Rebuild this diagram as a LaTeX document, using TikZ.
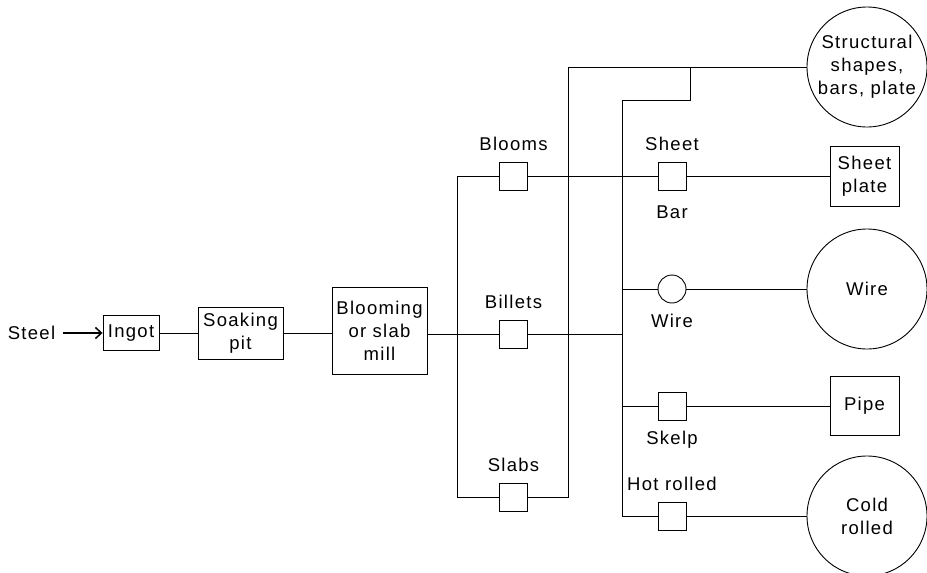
\documentclass[tikz,border=0pt]{standalone}
\usepackage{fontspec}
\setmainfont[LetterSpace=7]{Liberation Sans}
\usetikzlibrary{arrows.meta}
\pgfdeclarelayer{bg}
\pgfsetlayers{bg,main}
\tikzset{
    every node/.style={inner sep=0mm, align=center, font=\fontsize{18.5}{23}\selectfont}
}
\tikzset{
    blk/.style={draw, rectangle, fill=white},
    sq/.style={blk, minimum size=28pt},
    rnd/.style={draw, circle, fill=white, minimum size=120pt},
    sm/.style={draw, circle, fill=white, minimum size=28pt}
}
\tikzset{every label/.style={shape=rectangle, draw=none, fill=none, inner sep=0mm, label distance=10pt}}

\begin{document}
\begin{tikzpicture}[x=1pt, y=-1pt, line width=.9pt]
  \useasboundingbox (0,0) rectangle (927,573);

  \node (steel) at (31.5,333) {Steel};
  \node[blk, minimum width=56pt, minimum height=35pt] (ingot) at (131,333) {Ingot};
  \node[blk, minimum width=85pt, minimum height=52pt] (soak) at (240.5,333) {Soaking\\pit};
  \node[blk, minimum width=95pt, minimum height=87pt] (mill) at (379.5,330.5) {Blooming\\or slab\\mill};

  \node[sq, label={above:Blooms}] (blooms) at (513.5,176) {};
  \node[sq, label={above:Billets}] (billets) at (513.5,334) {};
  \node[sq, label={above:Slabs}] (slabs) at (513.5,497) {};

  \node[sq, label={above:Sheet}, label={[label distance=15pt]below:Bar}] (sheet) at (672,176) {};
  \node[sm, label={below:Wire}] (wiresm) at (672,289) {};
  \node[sq, label={below:Skelp}] (skelp) at (672,406) {};
  \node[sq, label={above:Hot rolled}] (hot) at (672,516) {};

  \node[rnd] (struct) at (867,67) {Structural\\shapes,\\bars, plate};
  \node[blk, minimum width=69pt, minimum height=60pt] (plate) at (864.5,176) {Sheet\\plate};
  \node[rnd] (wire) at (867,289) {Wire};
  \node[blk, minimum width=69pt, minimum height=59pt] (pipe) at (864.5,406) {Pipe};
  \node[rnd] (cold) at (867,516) {Cold\\rolled};

  \coordinate (tl) at (457,176);
  \coordinate (bl) at (457,497);
  \coordinate (br) at (568,497);
  \coordinate (tr) at (568,67);
  \coordinate (stub) at (690,67);
  \coordinate (bend) at (690,100);
  \coordinate (rtop) at (622,100);
  \coordinate (rbot) at (622,516);

  \begin{pgfonlayer}{bg}
	  \draw[-{Straight Barb[length=6pt,width=11pt]}, line width=1.5pt, shorten <=7pt] (steel) edge (ingot);
	  \draw (ingot) edge (soak);
	  \draw (soak) -- (soak -| mill.west);

	  \draw (mill.east |- billets) -- (billets);
	  \draw (billets) -- (rtop |- billets);

	  \draw (tl) -- (blooms); \draw (blooms) edge (sheet);
	  \draw (sheet) edge (plate);
	  \draw (tl) -- (bl) -- (slabs);
	  \draw (slabs) -- (br) -- (tr) -- (struct);

	  \draw (stub) -- (bend) -- (rtop) -- (rbot) -- (hot);
	  \draw (hot) edge (cold);
	  \draw (rtop |- wiresm) -- (wiresm); \draw (wiresm) edge (wire);
	  \draw (rtop |- skelp) -- (skelp); \draw (skelp) edge (pipe);
  \end{pgfonlayer}
\end{tikzpicture}
\end{document}
